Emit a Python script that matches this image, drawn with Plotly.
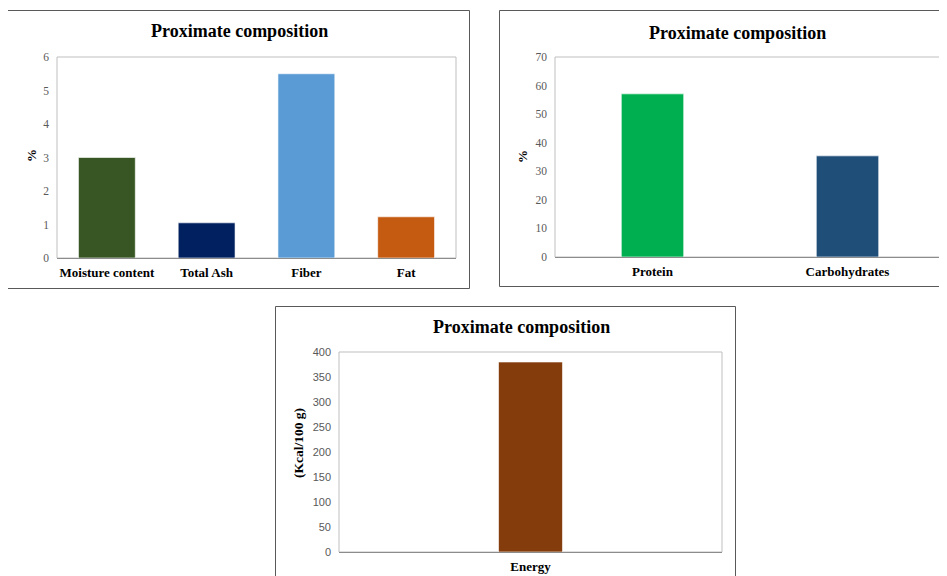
import plotly.graph_objects as go

# ---- data ----
cats1 = ["Moisture content", "Total Ash", "Fiber", "Fat"]
vals1 = [3.0, 1.05, 5.5, 1.23]
colors1 = ["#375623", "#002060", "#5B9BD5", "#C55A11"]

cats2 = ["Protein", "Carbohydrates"]
vals2 = [57.1, 35.4]
colors2 = ["#00B050", "#1F4E79"]

cats3 = ["Energy"]
vals3 = [380]
colors3 = ["#843C0C"]

title_text = "Proximate composition"

# page body has an 8px default margin; compensate so positions match the 947x576 window
OFF = 8
FW, FH = 947 - OFF, 576 - OFF


def px(x):
    return (x - OFF) / FW


def py(y):
    return 1 - (y - OFF) / FH


SERIF = "Liberation Serif, Times New Roman, serif"
SANS = "Liberation Sans, Arial, sans-serif"

fig = go.Figure()
edge = dict(color="rgba(255,255,255,0.6)", width=1)
fig.add_trace(go.Bar(x=cats1, y=vals1, marker=dict(color=colors1, line=edge),
                     width=0.57, xaxis="x", yaxis="y", showlegend=False))
fig.add_trace(go.Bar(x=cats2, y=vals2, marker=dict(color=colors2, line=edge),
                     width=0.32, xaxis="x2", yaxis="y2", showlegend=False))
fig.add_trace(go.Bar(x=cats3, y=vals3, marker=dict(color=colors3, line=edge),
                     width=0.167, xaxis="x3", yaxis="y3", showlegend=False))

xcommon = dict(showgrid=False, zeroline=False, showline=True, linecolor="#8C8C8C", linewidth=1,
               ticks="", automargin=False, ticklabelstandoff=2,
               tickfont=dict(family=SERIF, size=13, color="#000000", weight="bold"),
               fixedrange=True)
ycommon = dict(showgrid=False, zeroline=False, showline=False, ticks="", automargin=False,
               ticklabelstandoff=7,
               tickfont=dict(family=SERIF, size=11.5, color="#595959"), fixedrange=True)

fig.update_layout(
    width=FW, height=FH,
    margin=dict(l=0, r=0, t=0, b=0),
    paper_bgcolor="white", plot_bgcolor="white",
    xaxis=dict(domain=[px(57), px(456)], anchor="y", range=[-0.5, 3.5], **xcommon),
    yaxis=dict(domain=[py(258), py(57)], anchor="x", range=[0, 6], dtick=1, **ycommon),
    xaxis2=dict(domain=[px(555), min(1, px(945))], anchor="y2", range=[-0.5, 1.5], **xcommon),
    yaxis2=dict(domain=[py(257), py(57)], anchor="x2", range=[0, 70], dtick=10, **ycommon),
    xaxis3=dict(domain=[px(339), px(722)], anchor="y3", range=[-0.5, 0.5], **xcommon),
    yaxis3=dict(domain=[py(552), py(352)], anchor="x3", range=[0, 400], dtick=50,
                **{**ycommon, "tickfont": dict(family=SANS, size=11, color="#595959")}),
)

shapes = []
for xr, yr in [("x domain", "y domain"), ("x2 domain", "y2 domain"), ("x3 domain", "y3 domain")]:
    shapes.append(dict(type="rect", xref=xr, yref=yr, x0=0, x1=1, y0=0, y1=1,
                       line=dict(color="#BFBFBF", width=1), fillcolor="rgba(0,0,0,0)", layer="below"))
# outer panel borders
shapes.append(dict(type="rect", xref="paper", yref="paper", x0=px(7.5), x1=px(469.5), y0=py(288.5), y1=py(10.5),
                   line=dict(color="#595959", width=1)))
shapes.append(dict(type="path", xref="paper", yref="paper",
                   path=f"M {px(960)} {py(10.5)} L {px(499.5)} {py(10.5)} L {px(499.5)} {py(286.5)} L {px(960)} {py(286.5)}",
                   line=dict(color="#595959", width=1)))
shapes.append(dict(type="path", xref="paper", yref="paper",
                   path=f"M {px(275.5)} {py(590)} L {px(275.5)} {py(306.5)} L {px(735.5)} {py(306.5)} L {px(735.5)} {py(590)}",
                   line=dict(color="#595959", width=1)))
fig.update_layout(shapes=shapes)

ann = []
for cx, cy in [(239, 31), (737, 33), (521, 327)]:
    ann.append(dict(text=title_text, x=px(cx), y=py(cy), xref="paper", yref="paper", showarrow=False,
                    xanchor="center", yanchor="middle",
                    font=dict(family=SERIF, size=18, color="#000000", weight="bold")))
for t, cx, cy, fs in [("%", 31, 156, 13), ("%", 523, 157, 13), ("(Kcal/100 g)", 298, 443, 13.5)]:
    ann.append(dict(text=t, x=px(cx), y=py(cy), xref="paper", yref="paper", showarrow=False,
                    xanchor="center", yanchor="middle", textangle=-90,
                    font=dict(family=SERIF, size=fs, color="#000000", weight="bold")))
fig.update_layout(annotations=ann)

fig.write_html("out.html")
